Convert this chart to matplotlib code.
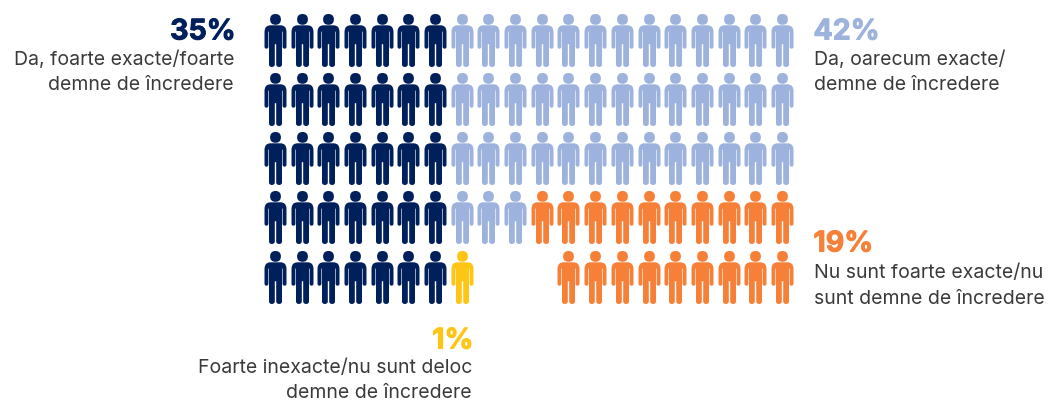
import matplotlib
matplotlib.use("Agg")
import matplotlib.pyplot as plt
import matplotlib.patheffects as pe
from matplotlib.path import Path

# Share of respondents per answer
shares = [35, 42, 19, 1]
share_colors = ["#00205b", "#9db2dc", "#f78038", "#ffc515"]

# Icons per row: runs of (first column, icon count, answer index)
row_runs = [
    [(0, 7, 0), (7, 13, 1)],
    [(0, 7, 0), (7, 13, 1)],
    [(0, 7, 0), (7, 13, 1)],
    [(0, 7, 0), (7, 3, 1), (10, 10, 2)],
    [(0, 7, 0), (7, 1, 3), (11, 9, 2)],
]

# Answer captions, two text lines each
captions = [
    ("Da, foarte exacte/foarte", "demne de încredere"),
    ("Da, oarecum exacte/", "demne de încredere"),
    ("Nu sunt foarte exacte/nu", "sunt demne de încredere"),
    ("Foarte inexacte/nu sunt deloc", "demne de încredere"),
]
# text x, percentage x, percentage baseline, first and second line baselines, alignment
caption_layout = [
    (234, 235.5, 39.5, 65, 90, "right"),
    (814, 813.5, 39.5, 65, 90, "left"),
    (814, 813.5, 251.5, 278, 304, "left"),
    (472, 473.5, 348.5, 373, 398, "right"),
]

TEXT_COLOR = "#3a3a3c"
COL_START, COL_STEP = 275.0, 26.68
ROW_START, ROW_STEP = 39.6, 59.3
FONT = "Inter"


def person_path():
    """Pictogram of a standing person, centred on the origin, y pointing up."""
    M, L, Q, C = Path.MOVETO, Path.LINETO, Path.CURVE3, Path.CLOSEPOLY
    verts, codes = [], []

    # head, built from four quadratic arcs
    cy, r = 21.1, 5.4
    verts += [(0, cy + r), (r, cy + r), (r, cy), (r, cy - r), (0, cy - r),
              (-r, cy - r), (-r, cy), (-r, cy + r), (0, cy + r)]
    codes += [M] + [Q] * 8

    # right half of the body outline, from the collar down to the crotch
    top = 15.2
    right = [
        (L, 5.0, top), (Q, 11.0, top), (Q, 11.0, 8.5),
        (L, 11.0, -6.2), (Q, 11.0, -8.2), (Q, 9.1, -8.2), (Q, 7.1, -8.2), (Q, 7.1, -6.2),
        (L, 7.1, 8.5), (L, 6.8, 9.2), (L, 6.5, 8.5),
        (L, 6.5, -24.0), (Q, 6.5, -26.5), (Q, 3.7, -26.5), (Q, 0.7, -26.5), (Q, 0.7, -24.0),
        (L, 0.7, -3.7), (L, 0.0, -3.7),
    ]
    verts.append((0, top))
    codes.append(M)
    verts += [(x, y) for _, x, y in right]
    codes += [c for c, _, _ in right]

    # left half mirrors the right half, walking the outline back up
    pts = [(0, top)] + [(x, y) for _, x, y in right]
    kinds = [M] + [c for c, _, _ in right]
    for i in range(len(pts) - 2, -1, -1):
        x, y = pts[i]
        verts.append((-x, y))
        codes.append(kinds[i + 1])
    verts.append((0, top))
    codes.append(C)
    return Path(verts, codes)


fig = plt.figure(figsize=(10.5, 4), dpi=100)
ax = fig.add_axes([0, 0, 1, 1])
ax.set_xlim(0, 1050)
ax.set_ylim(400, 0)
ax.axis("off")

icon = person_path()
icon_size_pt = 53 * 72 / fig.dpi

for row, runs in enumerate(row_runs):
    for start, count, answer in runs:
        xs = [COL_START + COL_STEP * (start + i) for i in range(count)]
        ys = [ROW_START + ROW_STEP * row] * count
        ax.scatter(xs, ys, marker=icon, s=icon_size_pt ** 2,
                   color=share_colors[answer], linewidths=0)

for share, color, lines, (x, px, y0, y1, y2, ha) in zip(shares, share_colors, captions, caption_layout):
    ax.text(px, y0, f"{share}%", color=color, fontsize=20.5, fontweight="bold",
            family=FONT, ha=ha, va="baseline",
            path_effects=[pe.withStroke(linewidth=0.7, foreground=color)])
    ax.text(x, y1, lines[0], color=TEXT_COLOR, fontsize=14.0, family=FONT, ha=ha, va="baseline")
    ax.text(x, y2, lines[1], color=TEXT_COLOR, fontsize=14.0, family=FONT, ha=ha, va="baseline")

fig.savefig("out.png", dpi=100)
